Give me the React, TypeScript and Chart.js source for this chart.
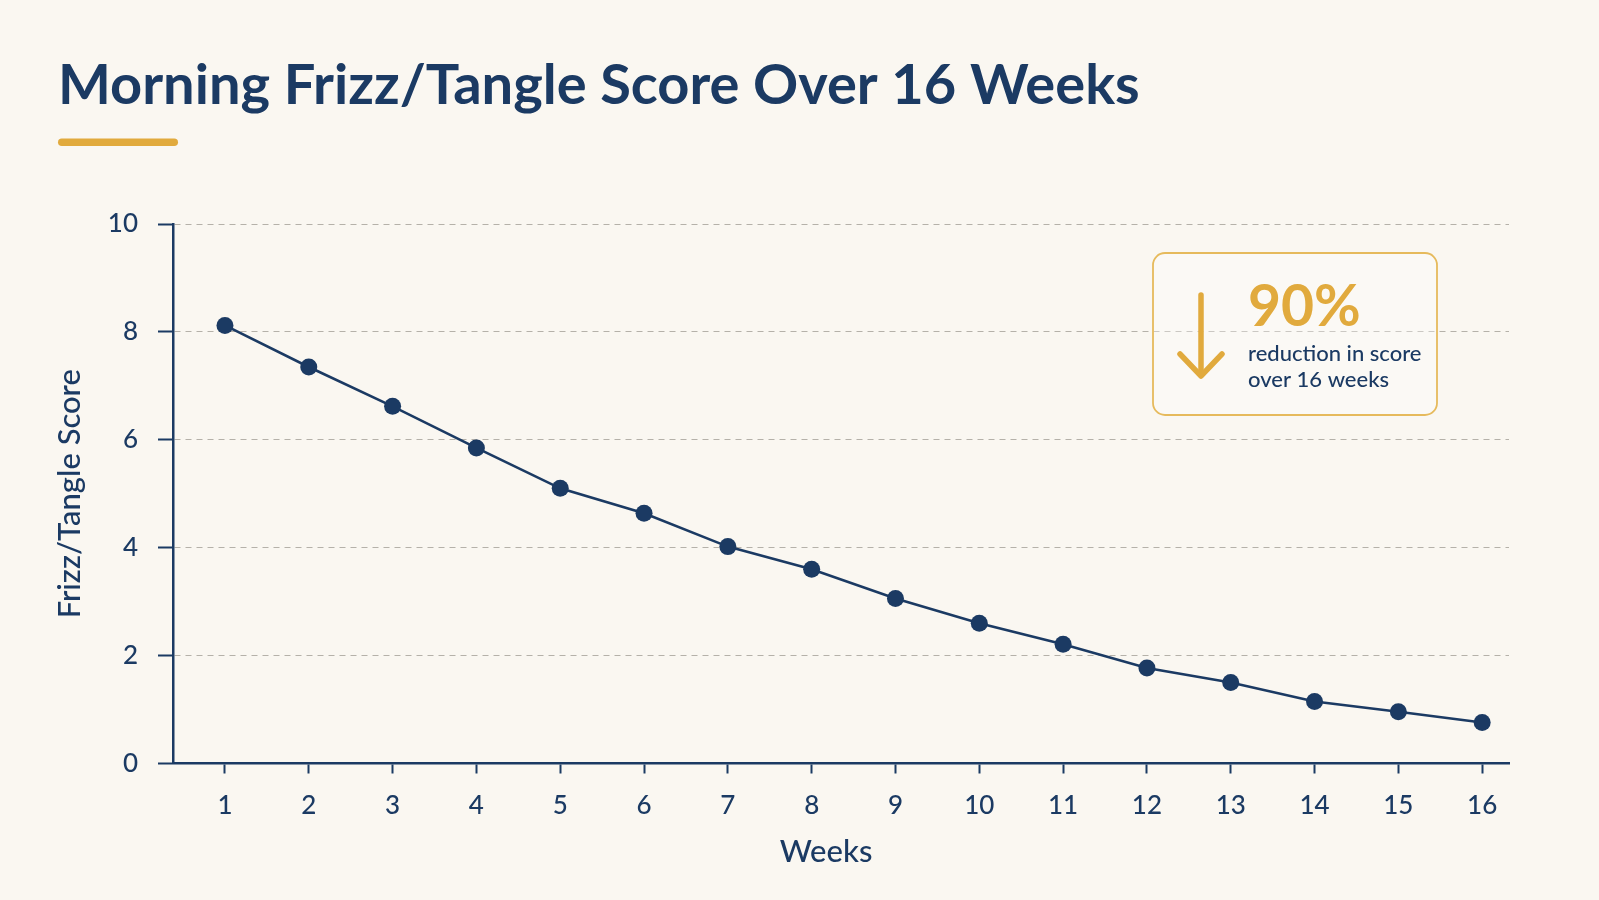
import React, { useEffect, useRef } from "react";
import { Chart, registerables } from "chart.js";

Chart.register(...registerables);

// ---------- data ----------
const TITLE = "Morning Frizz/Tangle Score Over 16 Weeks";
const X_TITLE = "Weeks";
const Y_TITLE = "Frizz/Tangle Score";
const weeks = [1, 2, 3, 4, 5, 6, 7, 8, 9, 10, 11, 12, 13, 14, 15, 16];
const scores = [8.12, 7.35, 6.62, 5.85, 5.1, 4.64, 4.02, 3.6, 3.06, 2.6, 2.21, 1.77, 1.5, 1.15, 0.96, 0.76];
const yTicks = [0, 2, 4, 6, 8, 10];
const CALLOUT_VALUE = "90%";
const CALLOUT_LINES = ["reduction in score", "over 16 weeks"];

// ---------- style ----------
const NAVY = "#1B3A63";
const GOLD = "#E1AA3D";
const BG = "#FAF7F1";
const GRID = "#B5B1A9";
const FONT = "Lato";

function roundRect(ctx: CanvasRenderingContext2D, x: number, y: number, w: number, h: number, r: number) {
  ctx.beginPath();
  ctx.moveTo(x + r, y);
  ctx.lineTo(x + w - r, y);
  ctx.arcTo(x + w, y, x + w, y + r, r);
  ctx.lineTo(x + w, y + h - r);
  ctx.arcTo(x + w, y + h, x + w - r, y + h, r);
  ctx.lineTo(x + r, y + h);
  ctx.arcTo(x, y + h, x, y + h - r, r);
  ctx.lineTo(x, y + r);
  ctx.arcTo(x, y, x + r, y, r);
  ctx.closePath();
}

const overlayPlugin = {
  id: "overlay",
  afterDraw(chart: any) {
    const ctx: CanvasRenderingContext2D = chart.ctx;
    const ca = chart.chartArea;
    ctx.save();
    // title
    ctx.font = `bold 56px ${FONT}`;
    ctx.fillStyle = NAVY;
    ctx.textBaseline = "alphabetic";
    ctx.textAlign = "left";
    ctx.fillText(TITLE, 58, 104);
    // gold underline
    ctx.fillStyle = GOLD;
    roundRect(ctx, 58, 138.5, 120, 7.5, 3.75);
    ctx.fill();

    // x-axis title
    ctx.fillStyle = NAVY;
    ctx.font = `500 31px ${FONT}`;
    ctx.textAlign = "center";
    ctx.fillText(X_TITLE, 826, 861.5);
    ctx.textAlign = "left";

    // callout box
    const w = 284;
    const h = 162;
    const x0 = ca.right - 72 - w;
    const y0 = ca.top + 29;
    roundRect(ctx, x0, y0, w, h, 12);
    ctx.fillStyle = "rgba(255,255,255,0.3)";
    ctx.fill();
    ctx.strokeStyle = "#E6BA5C";
    ctx.lineWidth = 1.8;
    ctx.stroke();

    // arrow
    const ax = x0 + 48;
    ctx.strokeStyle = GOLD;
    ctx.lineWidth = 5.5;
    ctx.lineCap = "round";
    ctx.lineJoin = "round";
    ctx.beginPath();
    ctx.moveTo(ax, y0 + 42);
    ctx.lineTo(ax, y0 + 122);
    ctx.stroke();
    ctx.beginPath();
    ctx.moveTo(ax - 21, y0 + 101);
    ctx.lineTo(ax, y0 + 123);
    ctx.lineTo(ax + 21, y0 + 101);
    ctx.stroke();

    // texts
    ctx.fillStyle = GOLD;
    ctx.font = `bold 57px ${FONT}`;
    ctx.fillText(CALLOUT_VALUE, x0 + 95, y0 + 73);
    ctx.fillStyle = NAVY;
    ctx.font = `500 22px ${FONT}`;
    ctx.fillText(CALLOUT_LINES[0], x0 + 95, y0 + 108);
    ctx.fillText(CALLOUT_LINES[1], x0 + 95, y0 + 134);
    ctx.restore();
  },
};

export default function App() {
  const canvasRef = useRef<HTMLCanvasElement | null>(null);

  useEffect(() => {
    document.body.style.margin = "0";
    document.body.style.background = BG;
    const canvas = canvasRef.current;
    if (!canvas) return;
    const chart = new Chart(canvas, {
      type: "line",
      data: {
        datasets: [
          {
            data: weeks.map((w, i) => ({ x: w, y: scores[i] })),
            borderColor: NAVY,
            backgroundColor: NAVY,
            borderWidth: 2.6,
            pointRadius: 8.5,
            pointBackgroundColor: NAVY,
            pointBorderColor: NAVY,
            pointBorderWidth: 0,
            tension: 0,
            clip: false,
          } as any,
        ],
      },
      options: {
        animation: false,
        responsive: false,
        maintainAspectRatio: false,
        layout: { padding: { top: 224, right: 90, bottom: 26.5, left: 0 } },
        plugins: {
          legend: { display: false },
          tooltip: { enabled: false },
          title: { display: false },
        },
        scales: {
          x: {
            type: "linear",
            min: 0.38,
            max: 16.32,
            afterBuildTicks: (s: any) => {
              s.ticks = weeks.map((v) => ({ value: v }));
            },
            afterFit: (s: any) => {
              s.height = 110;
            },
            grid: {
              drawOnChartArea: false,
              drawTicks: true,
              tickLength: 10,
              tickColor: NAVY,
              tickWidth: 2,
            },
            border: { display: true, color: NAVY, width: 2.5 },
            ticks: {
              color: NAVY,
              font: { family: FONT, size: 26, weight: "500" },
              padding: 17,
              autoSkip: false,
              maxRotation: 0,
              callback: (v: any) => String(v),
            },
            title: { display: false },
          } as any,
          y: {
            min: 0,
            max: 10,
            afterBuildTicks: (s: any) => {
              s.ticks = yTicks.map((v) => ({ value: v }));
            },
            afterFit: (s: any) => {
              s.width = 173;
            },
            grid: {
              color: (c: any) => (c.tick && c.tick.value === 0 ? "rgba(0,0,0,0)" : GRID),
              lineWidth: 1,
              drawTicks: true,
              tickLength: 15,
              tickColor: NAVY,
              tickWidth: 2,
              tickBorderDash: [],
            },
            border: { display: true, color: NAVY, width: 2.5, dash: [6, 5] },
            ticks: {
              color: NAVY,
              font: { family: FONT, size: 26, weight: "500" },
              padding: 20,
            },
            title: {
              display: true,
              text: Y_TITLE,
              color: NAVY,
              font: { family: FONT, size: 31, weight: "500" },
              padding: { top: 51.8, bottom: 0 },
            },
          } as any,
        },
      },
      plugins: [overlayPlugin],
    });
    return () => chart.destroy();
  }, []);

  return (
    <div
      style={{
        position: "absolute",
        left: 0,
        top: 0,
        width: 1599,
        height: 900,
        background: BG,
      }}
    >
      <canvas ref={canvasRef} width={1599} height={900} style={{ display: "block", width: 1599, height: 900 }} />
    </div>
  );
}
